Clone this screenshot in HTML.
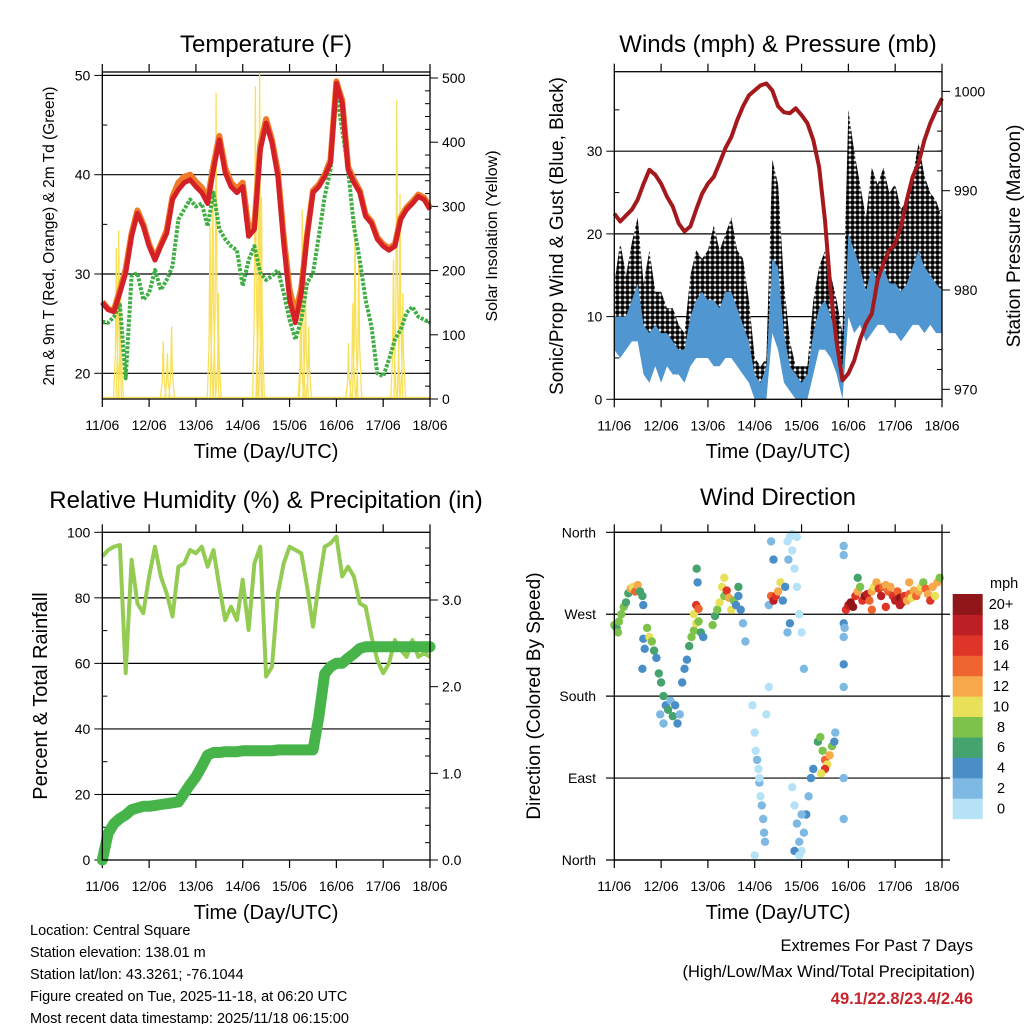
<!DOCTYPE html>
<html><head><meta charset="utf-8"><style>
html,body{margin:0;padding:0;background:#fff;}
svg{display:block;font-family:"Liberation Sans",Arial,sans-serif;}
</style></head><body>
<svg id="c" width="1024" height="1024" viewBox="0 0 1024 1024" xmlns="http://www.w3.org/2000/svg">
<defs>
<pattern id="dots" width="5" height="5" patternUnits="userSpaceOnUse"><rect width="5" height="5" fill="#fff"/><circle cx="2.5" cy="2.5" r="2.4" fill="#000"/></pattern>
</defs>
<g font-size="24" text-anchor="middle" fill="#000">
<text x="266" y="52">Temperature (F)</text>
<text x="778" y="52">Winds (mph) &amp; Pressure (mb)</text>
<text x="266" y="508">Relative Humidity (%) &amp; Precipitation (in)</text>
<text x="778" y="505">Wind Direction</text>
</g>
<g font-size="20" text-anchor="middle">
<text x="266" y="458">Time (Day/UTC)</text>
<text x="778" y="458">Time (Day/UTC)</text>
<text x="266" y="919">Time (Day/UTC)</text>
<text x="778" y="919">Time (Day/UTC)</text>
<text transform="translate(54,236) rotate(-90)" font-size="15.5">2m &amp; 9m T (Red, Orange) &amp; 2m Td (Green)</text>
<text transform="translate(497,236) rotate(-90)" font-size="16">Solar Insolation (Yellow)</text>
<text transform="translate(563,236) rotate(-90)" font-size="19">Sonic/Prop Wind &amp; Gust (Blue, Black)</text>
<text transform="translate(1020,236) rotate(-90)" font-size="19">Station Pressure (Maroon)</text>
<text transform="translate(47,696) rotate(-90)" font-size="20">Percent &amp; Total Rainfall</text>
<text transform="translate(540,696) rotate(-90)" font-size="19">Direction (Colored By Speed)</text>
</g>
<g font-size="14.5" fill="#000">
<text x="30" y="935">Location: Central Square</text>
<text x="30" y="957">Station elevation: 138.01 m</text>
<text x="30" y="979">Station lat/lon: 43.3261; -76.1044</text>
<text x="30" y="1001">Figure created on Tue, 2025-11-18, at 06:20 UTC</text>
<text x="30" y="1023">Most recent data timestamp: 2025/11/18 06:15:00</text>
</g>
<g font-size="16.5" text-anchor="end">
<text x="973" y="951">Extremes For Past 7 Days</text>
<text x="975" y="977">(High/Low/Max Wind/Total Precipitation)</text>
<text x="973" y="1004" font-weight="bold" fill="#c8242b">49.1/22.8/23.4/2.46</text>
</g>
</svg>
<script>
const dayLabels=["11/06","12/06","13/06","14/06","15/06","16/06","17/06","18/06"];
const tempRed=[27.1,26.4,26.2,28.1,30.1,33.8,36.1,34.8,32.8,31.4,32.8,34.1,37.5,38.5,39.2,39.5,38.8,38.2,37.1,40.5,43.5,40.2,38.8,38.2,38.8,33.8,34.5,42.5,45.2,43.2,39.8,33.1,27.4,25.1,28.1,33.8,38.2,38.8,39.8,41.2,49.2,47.2,40.5,39.2,38.2,35.8,35.1,33.5,32.8,32.4,32.8,35.5,36.5,37.1,37.8,37.5,36.5];
const tempOrange=[27.2,26.5,26.4,28.4,30.5,34.1,36.4,35.0,33.0,31.6,33.0,34.4,37.8,39.2,39.8,40.0,39.3,38.7,37.5,41.0,43.9,40.7,39.2,38.6,39.2,34.6,35.0,43.0,45.6,43.5,40.3,33.8,28.4,26.0,28.6,34.0,38.4,39.0,40.0,41.5,49.4,47.5,40.8,39.5,38.4,36.0,35.3,33.7,33.0,32.6,33.0,35.7,36.7,37.3,38.0,37.7,36.7];
const tempDew=[25.2,25.1,25.7,26.9,19.5,29.8,30.1,27.4,28.1,30.4,28.4,29.4,30.8,35.5,36.5,37.5,36.8,37.1,34.8,38.2,34.5,33.5,32.8,32.4,28.8,31.4,32.8,30.1,29.4,29.8,30.4,28.1,25.4,23.4,25.4,29.1,30.1,33.8,37.8,40.5,48.2,44.5,40.5,34.8,31.4,27.4,24.7,20.0,19.7,21.4,23.4,24.4,26.1,26.7,25.7,25.4,25.1];
const solarT=[0.30,0.35,0.39,0.48,1.30,1.39,1.48,2.30,2.36,2.43,2.48,3.27,3.34,3.36,3.40,4.24,4.27,4.34,4.41,5.26,5.35,5.40,5.48,6.22,6.29,6.36,6.42];
const solarV=[235,263,170,0,90,71,113,269,373,477,165,487,399,508,315,165,295,191,113,87,149,284,217,217,466,320,165];
const windLo=[6,5,6,7,7,3,2,4,2,4,3,3,2,4,5,5,5,4,4,5,5,4,3,2,0,0,0,8,6,2,1,0,0,0,3,6,6,5,3,0,10,8,9,7,8,9,9,8,8,7,8,9,9,8,9,8,8];
const windHi=[10,10,10,12,14,9,8,9,8,8,7,6,6,10,12,13,12,12,11,13,13,11,9,7,3,2,4,17,16,8,4,3,2,3,8,11,12,10,8,4,20,18,16,13,16,14,16,14,14,13,14,16,18,16,15,14,13];
const gustLo=[9,9,10,10,10,6,5,6,5,5,5,4,4,6,7,8,7,7,6,8,8,7,6,4,1,0,1,12,9,4,2,1,0,1,5,8,8,7,5,1,14,12,12,10,12,13,12,13,12,11,12,13,14,12,13,12,12];
const gustHi=[14,19,15,19,22,14,18,13,13,11,11,9,8,15,18,17,18,21,18,20,22,18,17,12,5,4,5,29,26,14,7,4,4,4,12,16,18,15,12,8,35,30,26,22,28,26,28,25,26,23,24,27,31,27,25,24,22];
const pressure=[987.7,986.9,987.5,988.1,989.1,990.7,992.1,991.6,990.7,989.4,988.4,986.7,985.9,986.4,988.1,989.7,990.7,991.4,992.8,994.3,995.4,997.1,998.5,999.6,1000.1,1000.6,1000.8,1000.1,998.5,997.9,997.8,998.3,997.6,996.8,995.1,992.4,987.0,979.7,974.7,970.9,971.6,972.9,975.0,976.6,977.6,981.0,982.7,984.0,984.7,986.4,989.1,991.4,992.8,995.1,996.8,998.1,999.3];
const rh=[92.6,94.6,95.6,96.1,57,91.6,78.3,75.3,86.5,95.6,86.5,81.4,74.3,89.5,90.5,94.6,93.6,95.6,89.5,94.6,83.4,73.2,77.3,73.2,85.5,70.2,90.5,95.6,56.0,59.0,81.4,90.5,95.6,94.6,93.6,83.4,71.2,84.4,95.6,96.6,98.7,86.5,89.5,86.5,78.3,77.3,68.2,61.0,57.0,60.0,67.1,64.1,62.0,67.1,62.0,63.1,62.0];
const precip=[0,0.31,0.42,0.48,0.52,0.58,0.60,0.62,0.62,0.63,0.64,0.65,0.66,0.67,0.77,0.87,0.96,1.08,1.21,1.24,1.24,1.25,1.25,1.25,1.26,1.26,1.26,1.26,1.26,1.26,1.27,1.27,1.27,1.27,1.27,1.27,1.27,1.65,2.15,2.23,2.27,2.27,2.33,2.38,2.44,2.46,2.46,2.46,2.46,2.46,2.46,2.46,2.46,2.46,2.46,2.46,2.46];
const dirT=[0.0,0.05,0.1,0.15,0.2,0.25,0.08,0.3,0.35,0.4,0.45,0.5,0.55,0.6,0.62,0.62,0.65,0.7,0.75,0.8,0.85,0.9,0.6,0.95,1.0,1.05,1.1,1.15,1.2,1.25,1.3,1.35,1.4,0.98,1.05,1.45,1.5,1.55,1.6,1.65,1.7,1.75,1.8,1.85,1.9,1.7,1.75,1.8,1.76,1.78,2.1,2.15,2.2,2.25,2.3,2.35,2.4,2.45,2.5,2.55,2.6,2.65,2.7,2.75,2.8,2.65,2.35,3.3,3.35,3.4,3.45,3.5,3.55,3.6,3.65,3.4,3.35,3.7,3.75,3.7,3.75,3.8,3.85,3.9,3.95,4.0,4.05,3.8,3.72,3.9,2.95,3.0,3.02,3.05,3.08,3.1,3.12,3.15,3.18,3.2,3.22,3.0,3.1,3.25,3.3,3.8,3.85,3.9,3.95,4.0,4.05,4.1,4.15,4.2,4.25,3.85,4.0,3.95,4.35,4.4,4.45,4.5,4.55,4.6,4.65,4.7,4.72,4.5,4.42,4.9,4.9,4.9,4.9,4.9,4.9,4.92,4.9,4.9,4.95,5.0,5.05,5.1,5.15,5.2,5.25,5.3,5.35,5.4,5.45,5.5,5.55,5.6,5.65,5.7,5.75,5.8,5.85,5.9,5.95,6.0,6.05,6.1,6.15,6.2,6.25,6.3,6.35,6.4,6.45,6.5,6.55,6.6,6.65,6.7,6.75,6.8,6.85,6.9,6.95,5.2,5.5,5.8,6.1,6.3];
const dirV=[258,255,262,270,278,283,250,293,298,300,295,302,295,290,280,243,232,255,245,240,230,222,210,205,195,180,170,165,175,158,170,150,160,160,150,195,210,220,235,245,252,260,262,250,245,270,280,276,320,305,258,268,275,283,300,290,296,288,275,285,280,290,275,260,240,300,310,280,290,285,290,295,305,285,300,330,350,250,260,350,355,340,320,300,270,250,210,358,330,355,170,140,120,110,100,85,70,60,45,30,20,5,90,160,190,80,60,40,20,10,30,50,70,90,100,10,50,5,130,135,120,110,105,115,125,130,140,100,95,345,335,260,245,215,190,255,90,45,275,280,283,278,290,295,300,285,290,292,285,295,300,305,298,290,300,302,295,300,290,285,295,288,283,290,285,292,288,296,290,295,300,305,298,292,285,300,290,305,310,310,275,278,280,305];
const dirS=[8,7,8,8,8,6,8,6,12,10,14,12,6,6,4,4,4,8,10,8,6,4,4,6,6,6,4,6,2,6,4,4,2,2,2,4,4,4,6,8,8,10,8,6,4,10,16,14,6,4,8,6,8,10,10,8,16,12,10,8,4,4,4,2,2,6,10,2,14,18,16,12,10,4,4,4,2,2,4,0,0,0,0,0,0,0,2,0,2,0,0,0,0,2,0,2,0,2,2,2,2,0,0,0,0,0,0,2,2,0,2,4,2,4,4,4,2,0,6,8,8,14,10,12,8,4,2,16,10,2,2,4,2,4,2,2,2,2,16,18,20,20,16,12,8,16,20,18,14,12,10,12,16,18,14,12,14,12,16,18,14,20,18,16,12,14,10,12,14,12,10,8,14,12,16,12,10,12,8,6,14,16,18,12];
const cbLabels=["0","2","4","6","8","10","12","14","16","18","20+"];
const cbColors=["#b5e2f7","#7db9e2","#4a8ec8","#45a46d","#7dc34b","#e8e058","#f6a84a","#ef6530","#df3528","#bd1f25","#901619"];

const svg=document.getElementById('c');
const NS="http://www.w3.org/2000/svg";
function mk(tag,attrs,parent){const e=document.createElementNS(NS,tag);for(const k in attrs)e.setAttribute(k,attrs[k]);(parent||svg).appendChild(e);return e;}
const W=327.7;
function sx(p,d){return (p?614.3:102.3)+d/7*W;}
function tx(p,i){return sx(p,i/8);}

function axes(px,top,bot,grid,left,right,name){
  const g=mk('g',{});
  
  
  const x0=sx(px,0),x1=sx(px,7);
  grid.forEach(y=>{const l=mk('line',{x1:x0,x2:x1,y1:y,y2:y,stroke:'#000','stroke-width':1.2},g);
    
    });
  for(let d=0;d<=7;d++){const x=sx(px,d);
    const t=mk('line',{x1:x,x2:x,y1:bot,y2:bot+8,stroke:'#000','stroke-width':1.2},g);
    
    
    const t2=mk('line',{x1:x,x2:x,y1:top,y2:top-8,stroke:'#000','stroke-width':1.2},g);
    
    
    const lb=mk('text',{x:x,y:bot+31,'font-size':14,'text-anchor':'middle'},g);lb.textContent=dayLabels[d];
    
    }
  left.forEach(([y,lab,maj])=>{if(y<top-0.5||y>bot+0.5)return;
    const t=mk('line',{x1:x0-(maj?8:0),x2:x0+(maj?0:5),y1:y,y2:y,stroke:'#000','stroke-width':1},g);
    
    
    if(lab!==null){const lb=mk('text',{x:x0-12,y:y+5,'font-size':14,'text-anchor':'end'},g);lb.textContent=lab;
      
      }});
  right.forEach(([y,lab,maj])=>{if(y<top-0.5||y>bot+0.5)return;
    const t=mk('line',{x1:x1-(maj?0:5),x2:x1+(maj?8:0),y1:y,y2:y,stroke:'#000','stroke-width':1},g);
    
    
    if(lab!==null){const lb=mk('text',{x:x1+12,y:y+5,'font-size':14,'text-anchor':'start'},g);lb.textContent=lab;
      
      }});
  return g;
}
function frame(px,top,bot,name){const r=mk('rect',{x:sx(px,0),y:top,width:W,height:bot-top,fill:'none',stroke:'#000','stroke-width':1.3});
  
  }
function pathFrom(arr,xf,yf){return arr.map((v,i)=>(i?'L':'M')+xf(i).toFixed(1)+','+yf(v).toFixed(1)).join('');}

// Panel 1
const tY=v=>373.3-(v-20)*9.93, sY=v=>399-v*0.642;
{const left=[],right=[];
 for(let v=20;v<=50;v+=5)left.push([tY(v),v%10==0?String(v):null,v%10==0]);
 for(let v=0;v<=500;v+=20)right.push([sY(v),v%100==0?String(v):null,v%100==0]);
 axes(0,72,399,[tY(20),tY(30),tY(40),tY(50)],left,right,'temperature');}
{const g=mk('g',{});
 
 
 let d='';
 solarT.forEach((t,i)=>{const v=solarV[i];
   d+='M'+sx(0,t-0.06).toFixed(1)+','+sY(0)+'L'+sx(0,t-0.02).toFixed(1)+','+sY(v*0.3).toFixed(1)+'L'+sx(0,t).toFixed(1)+','+sY(v).toFixed(1)+'L'+sx(0,t+0.015).toFixed(1)+','+sY(v*0.4).toFixed(1)+'L'+sx(0,t+0.06).toFixed(1)+','+sY(0);});
 const p=mk('path',{d:d,fill:'none',stroke:'#f9e05a','stroke-width':1.3},g);
 
 
 const b=mk('line',{x1:sx(0,0),x2:sx(0,7),y1:397.5,y2:397.5,stroke:'#f9e05a','stroke-width':1.5},g);
 
 }
{const p=mk('path',{d:pathFrom(tempDew,i=>tx(0,i),tY),fill:'none',stroke:'#3fae45','stroke-width':4,'stroke-dasharray':'3,1.5','stroke-linejoin':'round'});
 
 
 const o=mk('path',{d:pathFrom(tempOrange,i=>tx(0,i),tY),fill:'none',stroke:'#f07a28','stroke-width':6,'stroke-linejoin':'round'});
 
 
 const r=mk('path',{d:pathFrom(tempRed,i=>tx(0,i),tY),fill:'none',stroke:'#d42127','stroke-width':5,'stroke-linejoin':'round'});
 
 }
frame(0,72,399,'temperature');

// Panel 2
const wY=v=>399.3-v*8.27, pY=v=>389.3-(v-970)*9.93;
{const left=[],right=[];
 for(let v=0;v<=35;v+=5)left.push([wY(v),v%10==0?String(v):null,v%10==0]);
 for(let v=970;v<=1002;v+=2)right.push([pY(v),v%10==0?String(v):null,v%10==0]);
 axes(1,71.7,399.3,[wY(10),wY(20),wY(30)],left,right,'winds');}
function band(lo,hi,yf,px,fill,name){
  let d='M'+lo.map((v,i)=>tx(px,i).toFixed(1)+','+yf(v).toFixed(1)).join('L');
  for(let i=hi.length-1;i>=0;i--)d+='L'+tx(px,i).toFixed(1)+','+yf(hi[i]).toFixed(1);
  const p=mk('path',{d:d+'Z',fill:fill,stroke:'none'});
  
  }
band(gustLo,gustHi,wY,1,'url(#dots)','gust-band');
band(windLo,windHi,wY,1,'#5096d0','wind-band');
{const p=mk('path',{d:pathFrom(pressure,i=>tx(1,i),pY),fill:'none',stroke:'#a3191c','stroke-width':4,'stroke-linejoin':'round'});
 
 }
frame(1,71.7,399.3,'winds');

// Panel 3
const rY=v=>860-v*3.277, qY=v=>860-v*86.67;
{const left=[],right=[];
 for(let v=0;v<=100;v+=10)left.push([rY(v),v%20==0?String(v):null,v%20==0]);
 for(let v=0;v<=3.7;v+=0.2)right.push([qY(v),Math.abs(v-Math.round(v))<0.01?Math.round(v).toFixed(1):null,Math.abs(v-Math.round(v))<0.01]);
 axes(0,532.3,860,[rY(20),rY(40),rY(60),rY(80)],left,right,'humidity');}
{const p=mk('path',{d:pathFrom(rh,i=>tx(0,i),rY),fill:'none',stroke:'#93cb53','stroke-width':4,'stroke-linejoin':'round'});
 
 
 const q=mk('path',{d:pathFrom(precip,i=>tx(0,i),qY),fill:'none',stroke:'#46b449','stroke-width':11,'stroke-linejoin':'round','stroke-linecap':'round'});
 
 }
frame(0,532.3,860,'humidity');

// Panel 4
const dY=v=>860-v/360*327.7;
{const dirLabels=[["North",0],["East",90],["South",180],["West",270],["North",360]];
 const g=axes(1,532.3,860,[],[],[],'direction');
 dirLabels.forEach(([lab,v])=>{const y=dY(v);
   const l=mk('line',{x1:606,x2:950,y1:y,y2:y,stroke:'#000','stroke-width':1.2},g);
   
   
   const t=mk('text',{x:596,y:y+5,'font-size':14,'text-anchor':'end'},g);t.textContent=lab;
   
   });}
{const g=mk('g',{});
 
 
 dirT.forEach((t,i)=>{const c=mk('circle',{cx:sx(1,t).toFixed(1),cy:dY(dirV[i]).toFixed(1),r:4.2,fill:cbColors[Math.min(10,Math.floor(dirS[i]/2))]},g);
   
   });}
frame(1,532.3,860,'direction');
{const g=mk('g',{});
 
 
 const h=(818.7-594)/11;
 cbLabels.forEach((lab,i)=>{const y=818.7-(i+1)*h;
   const r=mk('rect',{x:952.7,y:y.toFixed(1),width:30,height:(h+0.5).toFixed(1),fill:cbColors[i]},g);
   
   
   const t=mk('text',{x:1001,y:(y+h/2+5).toFixed(1),'font-size':14.5,'text-anchor':'middle'},g);t.textContent=lab;
   
   });
 const m=mk('text',{x:990,y:588,'font-size':14.5},g);m.textContent='mph';
 
 }
</script>
</body></html>
